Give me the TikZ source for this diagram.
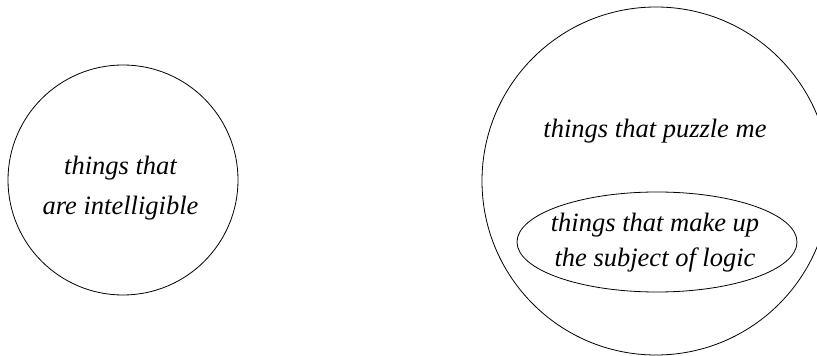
\documentclass[tikz,border=0pt]{standalone}
\usepackage{fontspec}
\setmainfont{Liberation Serif}
\usetikzlibrary{shapes.geometric}

\tikzset{
  venn/.style={draw, line width=0.8pt, inner sep=0pt},
  label text/.style={font=\itshape\fontsize{26.5}{40}\selectfont, align=center, inner sep=0pt, anchor=base}
}

\begin{document}
\begin{tikzpicture}[x=1pt, y=1pt]

    % 画布大小 (与参考图一致)
    \useasboundingbox (0,0) rectangle (817,356);

    % 1. 左边的圆
    \node[venn, circle, minimum size=230] (intell) at (123,176) {};
    \node[label text] (intelltext) at (120.5,141) {things that\\are intelligible};

    % 2. 右边的大圆
    \node[venn, circle, minimum size=348] (puzzle) at (656,175) {};
    \node[label text] (puzzletext) at (655,218) {things that puzzle me};

    % 3. 大圆里的椭圆
    \node[venn, ellipse, minimum width=280, minimum height=100] (logic) at (657,114) {};
    \node[label text, font=\itshape\fontsize{26.5}{35}\selectfont] (logictext) at (655,89) {things that make up\\the subject of logic};

\end{tikzpicture}
\end{document}
